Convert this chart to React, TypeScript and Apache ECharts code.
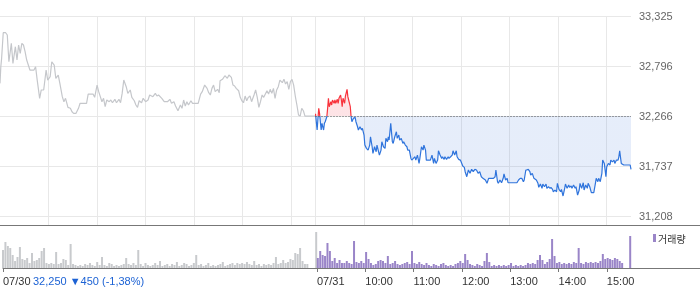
import React, { useEffect, useRef } from 'react';
import * as echarts from 'echarts';

// ---- data ----
const REF_PRICE = 32266;
const Y_MIN = 31113;
const Y_MAX = 33325;
const Y_TICKS = [31208, 31737, 32266, 32796, 33325];
const X_GRID_MINUTES = [60, 120, 180, 240, 300, 360, 390, 450, 510, 570, 630, 690, 750];
const X_LABEL_MINUTES = [0, 390, 450, 510, 570, 630, 690, 750];
const X_LABELS = ['07/30', '07/31', '10:00', '11:00', '12:00', '13:00', '14:00', '15:00'];
const SUMMARY_TEXT = '32,250 ▼450 (-1,38%)';
const VOLUME_NAME = '거래량';

// [minute since 07/30 09:00 (07/31 09:00 = 390), price]
const day1Prices: [number, number][] = [
  [0,32612],[1,32788],[2,32877],[4,33148],[7,33148],[9,33124],[11,32841],[14,33036],[16,32824],[19,33000],
  [21,32859],[23,33018],[25,32930],[27,33036],[29,33018],[31,32947],[33,32859],[35,32806],[37,32753],[42,32753],
  [44,32788],[46,32647],[49,32454],[51,32542],[54,32542],[57,32753],[59,32647],[62,32683],[64,32841],[67,32806],
  [69,32665],[72,32700],[74,32612],[77,32471],[79,32418],[81,32454],[84,32358],[87,32348],[89,32312],[91,32295],
  [94,32295],[97,32348],[99,32401],[107,32401],[109,32499],[115,32499],[117,32464],[120,32594],[122,32524],[124,32471],
  [126,32418],[128,32454],[130,32365],[132,32436],[135,32418],[137,32436],[139,32407],[142,32443],[144,32407],[147,32443],
  [149,32407],[151,32506],[153,32647],[156,32577],[158,32506],[161,32542],[163,32464],[166,32428],[168,32383],[170,32358],
  [172,32428],[175,32407],[177,32454],[180,32418],[183,32436],[185,32489],[189,32471],[192,32506],[194,32478],[196,32489],
  [200,32454],[203,32418],[207,32418],[210,32443],[212,32401],[215,32418],[217,32372],[220,32322],[223,32383],[225,32348],
  [227,32436],[229,32372],[231,32418],[233,32383],[236,32428],[238,32401],[245,32401],[248,32499],[250,32524],[253,32594],
  [256,32559],[258,32513],[260,32489],[262,32559],[264,32594],[266,32524],[269,32549],[271,32513],[272,32640],[275,32655],
  [278,32693],[281,32665],[283,32700],[286,32676],[288,32594],[290,32584],[292,32559],[295,32534],[297,32464],[299,32428],
  [301,32407],[303,32478],[305,32428],[307,32464],[309,32478],[311,32418],[314,32489],[316,32542],[318,32464],[320,32358],
  [322,32418],[324,32489],[326,32464],[328,32499],[330,32534],[332,32499],[334,32549],[336,32506],[338,32559],[340,32454],
  [342,32542],[344,32577],[346,32647],[349,32619],[351,32655],[353,32605],[355,32630],[357,32549],[359,32630],[361,32655],
  [363,32594],[365,32478],[367,32383],[369,32277],[371,32266],[373,32348],[375,32322],[377,32266],[390,32266]
];

const day2Prices: [number, number][] = [
  [390,32290],[392,32118],[394,32348],[395,32295],[397,32118],[398,32189],[400,32118],[401,32189],[402,32206],[404,32259],
  [405,32348],[406,32454],[407,32365],[409,32418],[410,32383],[411,32436],[413,32401],[414,32436],[415,32401],[417,32443],
  [418,32401],[419,32454],[421,32489],[422,32436],[423,32365],[424,32454],[426,32401],[427,32478],[429,32549],[430,32471],
  [431,32436],[433,32365],[434,32259],[435,32206],[437,32242],[439,32252],[440,32206],[442,32153],[443,32118],[445,32153],
  [447,32118],[448,32136],[450,32065],[451,31959],[453,31924],[455,31906],[457,31959],[458,32047],[460,31941],[461,31871],
  [463,31941],[465,31888],[466,31959],[468,31888],[469,31853],[471,31906],[472,31994],[474,31941],[476,31924],[477,32030],
  [479,31994],[480,32047],[481,32012],[483,32189],[485,31994],[486,31977],[488,32047],[490,32100],[491,32030],[493,32065],
  [494,32012],[496,32030],[498,31977],[499,31994],[501,31959],[503,31941],[504,31906],[506,31906],[508,31818],[509,31800],
  [511,31818],[513,31835],[514,31800],[516,31853],[518,31765],[519,31818],[521,31941],[523,31906],[524,31959],[526,31906],
  [527,31800],[532,31800],[534,31853],[536,31765],[537,31818],[539,31765],[541,31800],[542,31899],[544,31853],[546,31818],
  [547,31835],[549,31808],[550,31835],[552,31808],[554,31835],[555,31818],[557,31835],[559,31853],[560,31899],[562,31853],
  [564,31899],[565,31835],[567,31808],[569,31800],[570,31782],[572,31737],[574,31723],[575,31677],[577,31624],[579,31695],
  [581,31660],[583,31702],[585,31677],[587,31702],[589,31695],[591,31660],[593,31677],[595,31624],[597,31607],[600,31589],
  [602,31554],[604,31607],[610,31607],[612,31624],[613,31695],[615,31571],[616,31554],[618,31589],[620,31560],[622,31607],
  [623,31653],[625,31589],[627,31607],[628,31560],[639,31560],[641,31589],[643,31607],[645,31607],[647,31571],[648,31589],
  [650,31695],[651,31695],[653,31702],[655,31677],[656,31642],[658,31660],[660,31607],[663,31589],[665,31554],[666,31512],
  [668,31547],[670,31501],[671,31547],[673,31518],[675,31547],[676,31501],[678,31518],[680,31501],[681,31512],[683,31490],
  [684,31465],[686,31483],[688,31465],[689,31554],[691,31490],[693,31465],[694,31490],[696,31420],[698,31501],[699,31547],
  [701,31501],[703,31536],[704,31512],[706,31525],[707,31501],[709,31536],[711,31501],[712,31518],[714,31430],[716,31483],
  [717,31554],[719,31501],[721,31560],[722,31483],[724,31536],[726,31501],[727,31554],[729,31518],[731,31455],[734,31455],
  [736,31554],[737,31607],[739,31571],[740,31607],[742,31571],[744,31660],[745,31800],[747,31765],[749,31624],[750,31730],
  [752,31765],[754,31748],[755,31800],[757,31782],[759,31800],[760,31765],[762,31800],[764,31800],[765,31835],[766,31899],
  [768,31765],[771,31748],[779,31748],[780,31702]
];

// volume (x100 shares), sampled every 3 minutes
const VOL_STEP = 3;
const day1VolStart = 0;
const day1Volume = [
  18,26,22,20,13,7,11,21,9,8,10,5,15,7,8,10,17,20,5,4,5,4,16,4,5,9,8,3,24,4,
  3,2,3,2,4,3,5,3,2,6, 3,11,3,2,5,4,2,3,2,3, 4,10,4,3,5,3,18,4,2,5, 3,2,3,5,3,7,2,3,4,2,
  4,3,6,2,3,5,4,2,3,5, 13,3,4,2,3,5,2,3,2,3, 4,6,2,3,4,5,3,5,4,5, 4,6,4,3,7,3,4,2,4,3,
  4,3,5,11,4,5,8,5,6,9, 8,15,14,20,7,4,4,0,0,0
];
const day1CloseVolume: [number, number] = [389, 36];
const day2VolStart = 391;
const day2Volume = [
  10,17,13,12,25,17,7,10,5,8, 5,5,7,5,4,27,6,5,7,5, 16,9,5,3,4,7,8,7,5,12, 4,5,7,4,3,4,5,6,4,17,
  5,4,6,4,3,5,3,2,4,3, 2,4,5,3,2,3,2,4,5,7, 5,14,8,4,3,2,4,3,2,7, 15,6,2,3,2,3,2,3,2,3,
  5,2,3,2,3,2,3,5,4,5, 4,8,13,8,4,6,9,29,12,5, 6,4,5,4,5,4,6,5,20,5, 4,6,5,6,5,6,5,7,14,9,
  10,9,8,10,9,7,5
];
const day2CloseVolume: [number, number] = [779, 32];

// ---- styles ----
const GRAY_LINE = '#c5c7cb';
const RED = '#f8333c';
const BLUE = '#2f74dc';
const RED_FILL = 'rgba(240,40,60,0.13)';
const BLUE_FILL = 'rgba(50,110,220,0.12)';
const GRAY_BAR = '#c8cacd';
const PURPLE_BAR = '#9a85c8';
const AXIS_DARK = '#777777';
const GRID_LINE = '#e8e8e8';
const FONT = "'Liberation Sans', Arial, sans-serif";

function splitGradient(stop: number, h: number, above: string, below: string) {
  return new echarts.graphic.LinearGradient(0, 0, 0, h, [
    { offset: 0, color: above }, { offset: stop, color: above },
    { offset: stop, color: below }, { offset: 1, color: below }
  ], true);
}

export default function App() {
  const ref = useRef<HTMLDivElement>(null);
  useEffect(() => {
    if (!ref.current) return;
    const chart = echarts.init(ref.current, null, { renderer: 'svg' });
    const vol1: [number, number][] = day1Volume.map((v, i) => [day1VolStart + i * VOL_STEP, v] as [number, number]);
    vol1.push(day1CloseVolume);
    const vol2: [number, number][] = day2Volume.map((v, i) => [day2VolStart + i * VOL_STEP, v] as [number, number]);
    vol2.push(day2CloseVolume);

    chart.setOption({
      animation: false,
      textStyle: { fontFamily: FONT },
      grid: [
        { left: 0, right: 69, top: 16, bottom: 64 },
        { left: 0, right: 69, top: 225, bottom: 21 }
      ],
      xAxis: [
        {
          type: 'value', gridIndex: 0, min: 0, max: 780,
          axisLine: { show: true, lineStyle: { color: AXIS_DARK, width: 1 } },
          axisTick: { show: false, customValues: X_GRID_MINUTES },
          axisLabel: { show: false },
          splitLine: { show: true, lineStyle: { color: GRID_LINE, width: 1 } }
        },
        {
          type: 'value', gridIndex: 1, min: 0, max: 780,
          axisLine: { show: true, lineStyle: { color: AXIS_DARK, width: 1 } },
          axisTick: { show: true, customValues: X_LABEL_MINUTES, length: 4, lineStyle: { color: AXIS_DARK } },
          axisLabel: {
            customValues: X_LABEL_MINUTES,
            formatter: (v: number) => { const i = X_LABEL_MINUTES.indexOf(v); return i >= 0 ? X_LABELS[i] : ''; },
            align: 'left', color: '#333', fontSize: 11, fontFamily: FONT, margin: 7
          },
          splitLine: { show: false }
        }
      ],
      yAxis: [
        {
          type: 'value', gridIndex: 0, position: 'right', min: Y_MIN, max: Y_MAX,
          axisLine: { show: false },
          axisTick: { show: false, customValues: Y_TICKS },
          axisLabel: {
            customValues: Y_TICKS,
            formatter: (v: number) => Math.round(v).toLocaleString('en-US'),
            color: '#666', fontSize: 11, fontFamily: FONT, margin: 8
          },
          splitLine: { show: true, lineStyle: { color: GRID_LINE, width: 1 } }
        },
        { type: 'value', gridIndex: 1, min: 0, max: 43, show: false, splitLine: { show: false } }
      ],
      series: [
        {
          id: 'day1', type: 'line', xAxisIndex: 0, yAxisIndex: 0, data: day1Prices,
          showSymbol: false, symbol: 'none', lineStyle: { color: GRAY_LINE, width: 1.2 },
          itemStyle: { color: GRAY_LINE }, silent: true, z: 3
        },
        {
          id: 'day2', type: 'line', xAxisIndex: 0, yAxisIndex: 0, data: day2Prices,
          showSymbol: false, symbol: 'none', lineStyle: { width: 1.2, color: BLUE },
          itemStyle: { color: BLUE }, silent: true, z: 3,
          areaStyle: { origin: REF_PRICE, color: BLUE_FILL, opacity: 1 },
          markLine: {
            silent: true, symbol: ['none', 'none'], label: { show: false },
            lineStyle: { type: [1, 2], color: '#555', width: 1 },
            data: [[{ coord: [390, REF_PRICE] }, { coord: [780, REF_PRICE] }]]
          }
        },
        {
          id: 'vol1', name: VOLUME_NAME, type: 'bar', xAxisIndex: 1, yAxisIndex: 1, data: vol1,
          barWidth: 2, itemStyle: { color: GRAY_BAR }, silent: true
        },
        {
          id: 'vol2', name: VOLUME_NAME, type: 'bar', xAxisIndex: 1, yAxisIndex: 1, data: vol2,
          barWidth: 2, barGap: '-100%', itemStyle: { color: PURPLE_BAR }, silent: true
        }
      ],
      graphic: [
        { type: 'line', shape: { x1: 631, y1: 225.5, x2: 700, y2: 225.5 }, style: { stroke: AXIS_DARK, lineWidth: 1 } },
        { type: 'line', shape: { x1: 631, y1: 268.5, x2: 700, y2: 268.5 }, style: { stroke: AXIS_DARK, lineWidth: 1 } },
        { type: 'rect', shape: { x: 653, y: 234, width: 3, height: 8 }, style: { fill: PURPLE_BAR } },
        {
          type: 'text', x: 658, y: 238,
          style: { text: VOLUME_NAME, fill: '#333', font: "10px 'Noto Sans CJK KR', sans-serif", verticalAlign: 'middle' }
        },
        {
          type: 'text', x: 33, y: 281,
          style: { text: SUMMARY_TEXT, fill: '#1c62d4', font: `11px ${FONT}`, verticalAlign: 'middle' }
        }
      ]
    });

    const yRef = chart.convertToPixel({ yAxisIndex: 0 }, REF_PRICE) as number;
    const H = 289;
    const stop = Math.min(1, Math.max(0, yRef / H));
    chart.setOption({
      series: [{
        id: 'day2',
        lineStyle: { width: 1.2, color: splitGradient(stop, H, RED, BLUE) },
        areaStyle: { origin: REF_PRICE, opacity: 1, color: splitGradient(stop, H, RED_FILL, BLUE_FILL) }
      }]
    });

    return () => chart.dispose();
  }, []);
  return <div ref={ref} style={{ position: 'fixed', left: 0, top: 0, width: 700, height: 289 }} />;
}
